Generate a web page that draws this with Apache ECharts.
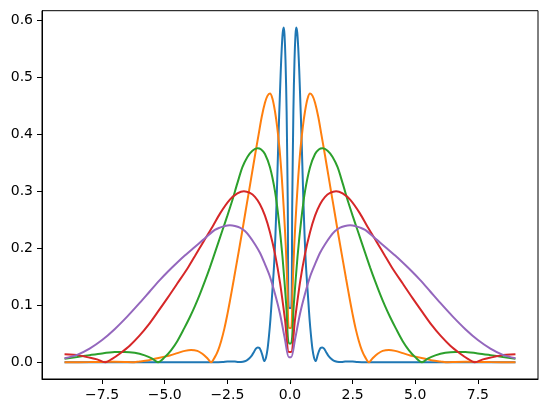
<!DOCTYPE html>
<html><head><meta charset="utf-8">
<script src="https://cdn.jsdelivr.net/npm/echarts@6/dist/echarts.min.js"></script>
<style>html,body{margin:0;padding:0;background:#fff}#c{width:547px;height:413px}</style>
</head><body><div id="c"></div>
<script>
// Tick labels
const xTicks = [-7.5, -5, -2.5, 0, 2.5, 5, 7.5];
const yTicks = [0, 0.1, 0.2, 0.3, 0.4, 0.5, 0.6];

// Curves are symmetric about x = 0; values read for x >= 0 (mirrored for x < 0)
const blueX = [0.045, 0.09, 0.135, 0.18, 0.22, 0.25, 0.29, 0.33, 0.37, 0.41, 0.45, 0.49, 0.53, 0.58, 0.63, 0.68, 0.73, 0.78, 0.84, 0.9, 0.96, 1.03, 1.1, 1.16, 1.22, 1.29, 1.36, 1.44, 1.52, 1.62, 1.74, 1.88, 2.05, 2.2, 2.33, 2.5, 2.7, 3.0, 4.0, 9.0];
const blueY = [0.095, 0.28, 0.44, 0.53, 0.575, 0.587, 0.578, 0.55, 0.51, 0.46, 0.41, 0.35, 0.29, 0.225, 0.175, 0.14, 0.108, 0.076, 0.046, 0.022, 0.008, 0.002, 0.012, 0.02, 0.025, 0.026, 0.024, 0.018, 0.012, 0.007, 0.003, 0.001, 0.0005, 0.0012, 0.0015, 0.0012, 0.0005, 0.0001, 0.0001, 0];

const orangeX = [0.045, 0.1, 0.17, 0.25, 0.33, 0.42, 0.51, 0.6, 0.7, 0.8, 0.9, 1.0, 1.13, 1.25, 1.4, 1.53, 1.66, 1.78, 1.89, 2.0, 2.12, 2.24, 2.4, 2.5, 2.62, 2.75, 2.87, 3.0, 3.15, 3.3, 3.5, 3.7, 3.95, 4.2, 4.5, 4.8, 5.1, 5.4, 5.7, 6.0, 6.3, 6.6, 7.0, 7.5, 8.0, 9.0];
const orangeY = [0.06, 0.125, 0.205, 0.27, 0.325, 0.375, 0.412, 0.44, 0.462, 0.471, 0.467, 0.455, 0.43, 0.4, 0.362, 0.328, 0.294, 0.263, 0.234, 0.206, 0.176, 0.146, 0.107, 0.084, 0.059, 0.037, 0.021, 0.009, 0.0, 0.007, 0.015, 0.02, 0.0216, 0.02, 0.016, 0.012, 0.009, 0.006, 0.003, 0.0015, 0.0, 0.0005, 0.0008, 0.0006, 0.0003, 0.0002];

const greenX = [0.045, 0.15, 0.3, 0.45, 0.6, 0.8, 1.0, 1.15, 1.3, 1.5, 1.7, 1.9, 2.1, 2.33, 2.5, 2.7, 2.99, 3.2, 3.39, 3.6, 3.8, 4.0, 4.23, 4.5, 4.75, 5.0, 5.27, 5.5, 5.8, 6.2, 6.6, 7.0, 7.5, 8.0, 8.5, 9.0];
const greenY = [0.033, 0.1, 0.185, 0.25, 0.3, 0.342, 0.365, 0.373, 0.375, 0.371, 0.36, 0.342, 0.314, 0.28, 0.257, 0.231, 0.193, 0.166, 0.143, 0.119, 0.098, 0.079, 0.059, 0.037, 0.021, 0.009, 0.0, 0.0065, 0.012, 0.0165, 0.0182, 0.0178, 0.0155, 0.0125, 0.0093, 0.0063];

const redX = [0.045, 0.2, 0.4, 0.6, 0.8, 1.0, 1.2, 1.4, 1.6, 1.84, 2.1, 2.4, 2.79, 3.1, 3.46, 3.8, 4.1, 4.5, 4.9, 5.3, 5.66, 6.0, 6.4, 6.8, 7.1, 7.38, 7.7, 8.1, 8.4, 9.0];
const redY = [0.018, 0.075, 0.14, 0.19, 0.228, 0.257, 0.277, 0.29, 0.297, 0.3, 0.296, 0.285, 0.261, 0.237, 0.211, 0.186, 0.164, 0.138, 0.112, 0.087, 0.065, 0.047, 0.029, 0.015, 0.006, 0.0, 0.005, 0.009, 0.012, 0.014];

const purpleX = [0.045, 0.2, 0.4, 0.6, 0.8, 1.0, 1.2, 1.4, 1.6, 1.8, 2.0, 2.2, 2.4, 2.6, 2.8, 3.0, 3.2, 3.46, 3.86, 4.2, 4.52, 4.85, 5.2, 5.6, 6.0, 6.5, 7.0, 7.5, 8.0, 8.5, 9.0];
const purpleY = [0.009, 0.04, 0.085, 0.12, 0.15, 0.172, 0.192, 0.207, 0.22, 0.23, 0.236, 0.239, 0.24, 0.239, 0.236, 0.232, 0.225, 0.215, 0.2, 0.187, 0.174, 0.16, 0.144, 0.124, 0.104, 0.08, 0.058, 0.039, 0.024, 0.013, 0.007];

const seriesNames = ['blue', 'orange', 'green', 'red', 'purple'];
const seriesColors = ['#1f77b4', '#ff7f0e', '#2ca02c', '#d62728', '#9467bd'];

function mirror(xs, ys) {
  const d = [];
  for (let i = xs.length - 1; i >= 0; i--) d.push([-xs[i], ys[i]]);
  for (let i = 0; i < xs.length; i++) d.push([xs[i], ys[i]]);
  return d;
}
const allData = [mirror(blueX, blueY), mirror(orangeX, orangeY), mirror(greenX, greenY), mirror(redX, redY), mirror(purpleX, purpleY)];

const font = 'DejaVu Sans';
const chart = echarts.init(document.getElementById('c'), null, {renderer: 'canvas'});
chart.setOption({
  animation: false,
  backgroundColor: '#ffffff',
  grid: {left: 42, right: 9, top: 10.7, bottom: 34, show: true, borderColor: '#000', borderWidth: 1, backgroundColor: 'transparent'},
  xAxis: {
    type: 'value', min: -9.9, max: 9.9,
    axisLine: {show: true, onZero: false, lineStyle: {color: '#000', width: 1}},
    axisTick: {show: true, inside: false, length: 5, lineStyle: {color: '#000', width: 1}, customValues: xTicks},
    axisLabel: {show: true, margin: 9, color: '#000', fontFamily: font, fontSize: 14, customValues: xTicks,
      formatter: v => (v < 0 ? '\u2212' : '') + Math.abs(v).toFixed(1)},
    splitLine: {show: false}
  },
  yAxis: {
    type: 'value', min: -0.02935, max: 0.61635,
    axisLine: {show: true, onZero: false, lineStyle: {color: '#000', width: 1}},
    axisTick: {show: true, inside: false, length: 5, lineStyle: {color: '#000', width: 1}, customValues: yTicks},
    axisLabel: {show: true, margin: 9, color: '#000', fontFamily: font, fontSize: 14, customValues: yTicks,
      formatter: v => v.toFixed(1)},
    splitLine: {show: false}
  },
  series: allData.map((d, i) => ({
    name: seriesNames[i], type: 'line', data: d, showSymbol: false, symbol: 'none',
    smooth: 0.3,
    lineStyle: {color: seriesColors[i], width: 2}, itemStyle: {color: seriesColors[i]},
    z: 2 + i
  }))
});
</script>
</body></html>
